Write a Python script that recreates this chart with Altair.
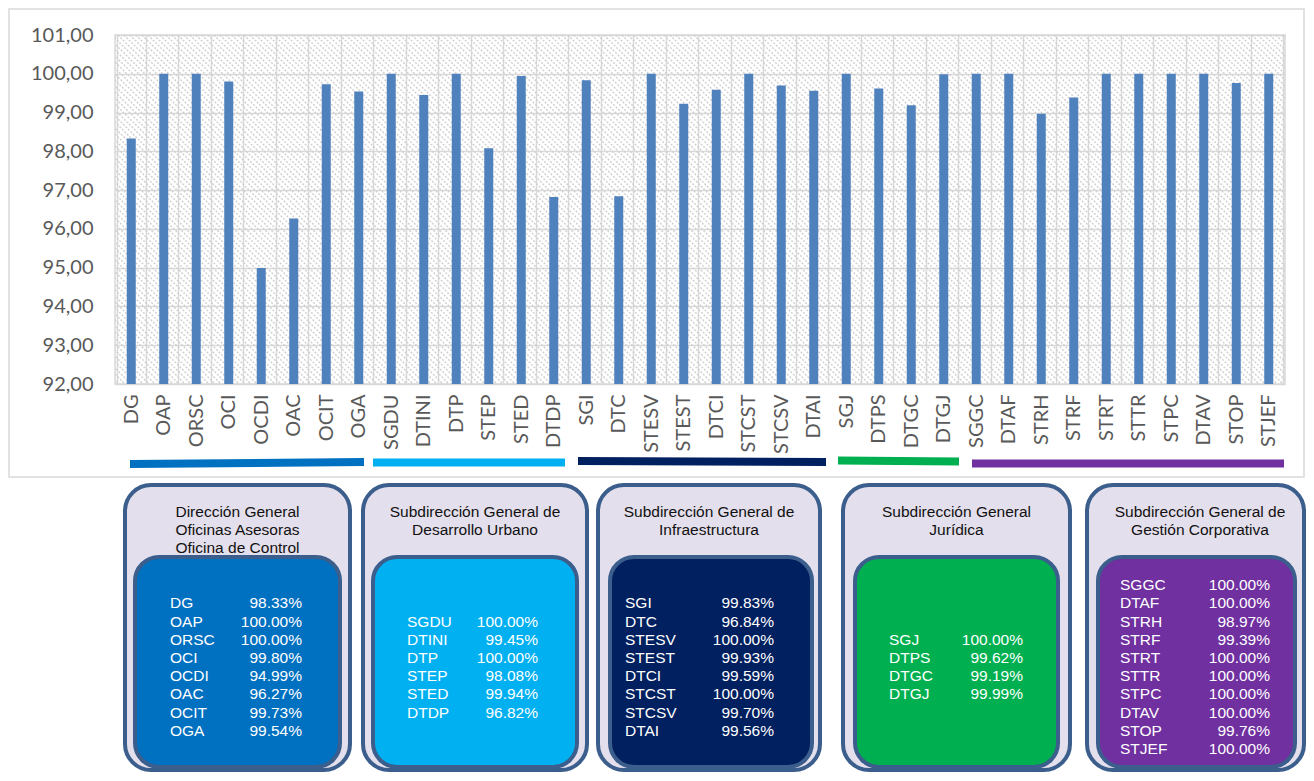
import altair as alt
import pandas as pd
import numpy as np

# ---------------- data ----------------
categories = ["DG", "OAP", "ORSC", "OCI", "OCDI", "OAC", "OCIT", "OGA",
              "SGDU", "DTINI", "DTP", "STEP", "STED", "DTDP",
              "SGI", "DTC", "STESV", "STEST", "DTCI", "STCST", "STCSV", "DTAI",
              "SGJ", "DTPS", "DTGC", "DTGJ",
              "SGGC", "DTAF", "STRH", "STRF", "STRT", "STTR", "STPC", "DTAV", "STOP", "STJEF"]
bar_values = [98.33, 100.00, 100.00, 99.80, 94.99, 96.27, 99.73, 99.54,
              100.00, 99.45, 100.00, 98.08, 99.94, 96.82,
              99.83, 96.84, 100.00, 99.23, 99.59, 100.00, 99.70, 99.56,
              100.00, 99.62, 99.19, 99.99,
              100.00, 100.00, 98.97, 99.39, 100.00, 100.00, 100.00, 100.00, 99.76, 100.00]

group_titles = [["Dirección General", "Oficinas Asesoras", "Oficina de Control"],
                ["Subdirección General de", "Desarrollo Urbano"],
                ["Subdirección General de", "Infraestructura"],
                ["Subdirección General", "Jurídica"],
                ["Subdirección General de", "Gestión Corporativa"]]
group_labels = [["DG", "OAP", "ORSC", "OCI", "OCDI", "OAC", "OCIT", "OGA"],
                ["SGDU", "DTINI", "DTP", "STEP", "STED", "DTDP"],
                ["SGI", "DTC", "STESV", "STEST", "DTCI", "STCST", "STCSV", "DTAI"],
                ["SGJ", "DTPS", "DTGC", "DTGJ"],
                ["SGGC", "DTAF", "STRH", "STRF", "STRT", "STTR", "STPC", "DTAV", "STOP", "STJEF"]]
group_percents = [[98.33, 100.00, 100.00, 99.80, 94.99, 96.27, 99.73, 99.54],
                  [100.00, 99.45, 100.00, 98.08, 99.94, 96.82],
                  [99.83, 96.84, 100.00, 99.93, 99.59, 100.00, 99.70, 99.56],
                  [100.00, 99.62, 99.19, 99.99],
                  [100.00, 100.00, 98.97, 99.39, 100.00, 100.00, 100.00, 100.00, 99.76, 100.00]]

# ---------------- styling / layout ----------------
group_colors = ["#0070C0", "#00B0F0", "#002060", "#00B050", "#7030A0"]
PX0, PY0 = 115, 35           # plot origin on page
W, H = 1170, 349
box_outer = [(125, 350), (363, 587), (598, 820), (843, 1070), (1087, 1304)]
box_inner = [(135, 340), (373, 577), (610, 812), (855, 1058), (1098, 1295)]
text_x = [(170, 302), (407, 538), (625, 774), (889, 1023), (1120, 1270)]
underlines = [((130, 464), (364, 462)), ((373, 462.5), (565, 462.5)),
              ((578, 461), (826, 462)), ((838, 460.5), (959, 461.5)),
              ((972, 463.5), (1284, 463.5))]
BORDER = "#3B5E8C"
LAV = "#E4DFEC"
TXT_FONT = "Liberation Sans"


def px(x):
    return x - PX0


def py(y):
    return y - PY0


one = pd.DataFrame({"k": [0]})
layers = []

# hatch background
hatch_df = pd.DataFrame({"h0": np.arange(-H - 8, W, 6)})
hatch_df["h1"] = hatch_df["h0"] + H
layers.append(
    alt.Chart(hatch_df).mark_rule(clip=True, color="#CFCFCF", strokeWidth=1.4, strokeDash=[2, 1.5]).encode(
        x=alt.X("h0:Q", scale=alt.Scale(domain=[0, W], range=[0, W], nice=False, zero=False), axis=None),
        x2="h1:Q",
        y=alt.value(0),
        y2=alt.value(H),
    )
)

bar_df = pd.DataFrame({"cat": categories, "val": bar_values})
layers.append(
    alt.Chart(bar_df).mark_bar(size=9, color="#4F81BD").encode(
        x=alt.X("cat:N", sort=categories, title=None,
                axis=alt.Axis(labelAngle=270, labelFont="Lato", labelFontSize=20, labelColor="#595959",
                              ticks=False, domain=False, grid=True, gridColor="#D9D9D9", gridWidth=1.5,
                              tickBand="extent", labelPadding=10, labelOverlap=False)),
        y=alt.Y("val:Q", title=None,
                scale=alt.Scale(domain=[92, 101], nice=False, zero=False),
                axis=alt.Axis(values=list(range(92, 102)),
                              labelExpr="replace(format(datum.value, '.2f'), '.', ',')",
                              labelFont="Lato", labelFontSize=20, labelColor="#595959",
                              ticks=False, domain=False, grid=True, gridColor="#D9D9D9", gridWidth=1.5,
                              labelPadding=22)),
        y2=alt.datum(92),
    )
)

# outer chart-area border
layers.append(
    alt.Chart(one).mark_rect(fillOpacity=0, stroke="#D9D9D9", strokeWidth=1.5).encode(
        x=alt.value(px(9)), x2=alt.value(px(1304)), y=alt.value(py(9)), y2=alt.value(py(477))
    )
)

# coloured underlines
for (p0, p1), col in zip(underlines, group_colors):
    layers.append(
        alt.Chart(one).mark_rule(color=col, strokeWidth=8, strokeCap="butt").encode(
            x=alt.value(px(p0[0])), y=alt.value(py(p0[1])),
            x2=alt.value(px(p1[0])), y2=alt.value(py(p1[1])),
        )
    )

ROW_C = py(667)
ROW_H = 18.2
for i in range(5):
    ox0, ox1 = box_outer[i]
    ix0, ix1 = box_inner[i]
    layers.append(
        alt.Chart(one).mark_rect(cornerRadius=26, fill=LAV, stroke=BORDER, strokeWidth=4).encode(
            x=alt.value(px(ox0)), x2=alt.value(px(ox1)), y=alt.value(py(485)), y2=alt.value(py(770))
        )
    )
    layers.append(
        alt.Chart(one).mark_rect(cornerRadius=24, fill=group_colors[i], stroke=BORDER, strokeWidth=4).encode(
            x=alt.value(px(ix0)), x2=alt.value(px(ix1)), y=alt.value(py(557)), y2=alt.value(py(767))
        )
    )
    tdf = pd.DataFrame({"t": group_titles[i], "line": list(range(len(group_titles[i])))})
    layers.append(
        alt.Chart(tdf).mark_text(font=TXT_FONT, fontSize=15.5, color="#111111",
                                 align="center", baseline="middle").encode(
            x=alt.value(px((ox0 + ox1) / 2 if i < 4 else 1200)),
            y=alt.Y("line:Q", axis=None,
                    scale=alt.Scale(domain=[0, 1], range=[py(512), py(530)], nice=False, zero=False)),
            text="t:N",
        )
    )
    n = len(group_labels[i])
    ddf = pd.DataFrame({
        "lab": group_labels[i],
        "pct": [f"{v:.2f}%" for v in group_percents[i]],
        "off": [k - (n - 1) / 2 for k in range(n)],
    })
    yenc = alt.Y("off:Q", axis=None,
                 scale=alt.Scale(domain=[-1, 1], range=[ROW_C - ROW_H, ROW_C + ROW_H], nice=False, zero=False))
    layers.append(
        alt.Chart(ddf).mark_text(font=TXT_FONT, fontSize=15.5, color="white",
                                 align="left", baseline="middle").encode(
            x=alt.value(px(text_x[i][0])), y=yenc, text="lab:N")
    )
    layers.append(
        alt.Chart(ddf).mark_text(font=TXT_FONT, fontSize=15.5, color="white",
                                 align="right", baseline="middle").encode(
            x=alt.value(px(text_x[i][1])), y=yenc, text="pct:N")
    )

chart = alt.layer(*layers).resolve_scale(x="independent", y="independent").properties(
    width=W, height=H,
    padding={"left": 107, "top": 27, "right": 21, "bottom": 389},
    autosize=alt.AutoSizeParams(type="none"),
    background="white",
).configure_view(stroke="#D9D9D9", strokeWidth=1.5)

chart.save("out.html", embed_options={"renderer": "svg", "actions": False})
